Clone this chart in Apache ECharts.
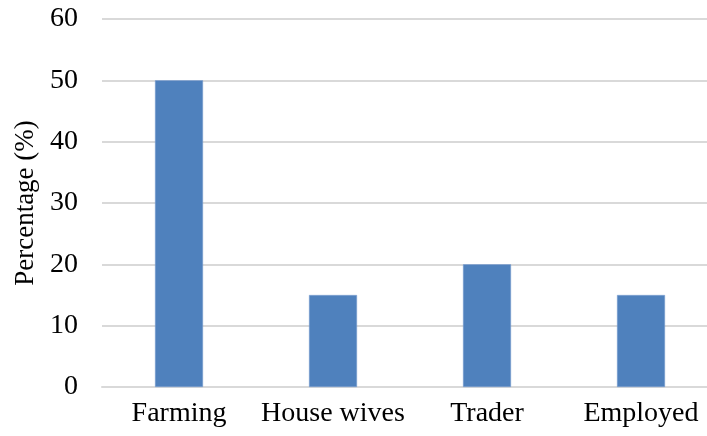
<!DOCTYPE html>
<html>
<head>
<meta charset="utf-8">
<script src="https://cdn.jsdelivr.net/npm/echarts@6/dist/echarts.min.js"></script>
<style>
  html, body { margin: 0; padding: 0; background: #fff; }
  #chart { width: 707px; height: 436px; }
</style>
</head>
<body>
<div id="chart"></div>
<script>
// occupation of respondents
const categories = ['Farming', 'House wives', 'Trader', 'Employed'];
const percentages = [50, 15, 20, 15];
const yTicks = { min: 0, max: 60, interval: 10 };

const font = 'Liberation Serif';

const option = {
  backgroundColor: '#fff',
  animation: false,
  // plot area runs a bit past the right edge, as in the source picture
  grid: { left: 102, width: 616, top: 19, bottom: 49, outerBoundsMode: 'none' },
  xAxis: {
    type: 'category',
    data: categories,
    axisLine: { show: true, lineStyle: { color: '#d9d9d9', width: 2 } },
    axisTick: { show: false },
    axisLabel: { color: '#000', fontFamily: font, fontSize: 28, margin: 13, interval: 0 }
  },
  yAxis: {
    type: 'value',
    min: yTicks.min,
    max: yTicks.max,
    interval: yTicks.interval,
    name: 'Percentage (%)',
    nameLocation: 'middle',
    nameGap: 60,
    nameTextStyle: { color: '#000', fontFamily: font, fontSize: 27 },
    axisLine: { show: false },
    axisTick: { show: false },
    axisLabel: { color: '#000', fontFamily: font, fontSize: 28, margin: 24 },
    splitLine: { lineStyle: { color: '#d9d9d9', width: 2 } }
  },
  series: [{
    type: 'bar',
    data: percentages,
    barWidth: 48,
    itemStyle: { color: '#4f81bd', borderColor: '#7ea1d3', borderWidth: 0.5 }
  }]
};

echarts.init(document.getElementById('chart')).setOption(option);
</script>
</body>
</html>
